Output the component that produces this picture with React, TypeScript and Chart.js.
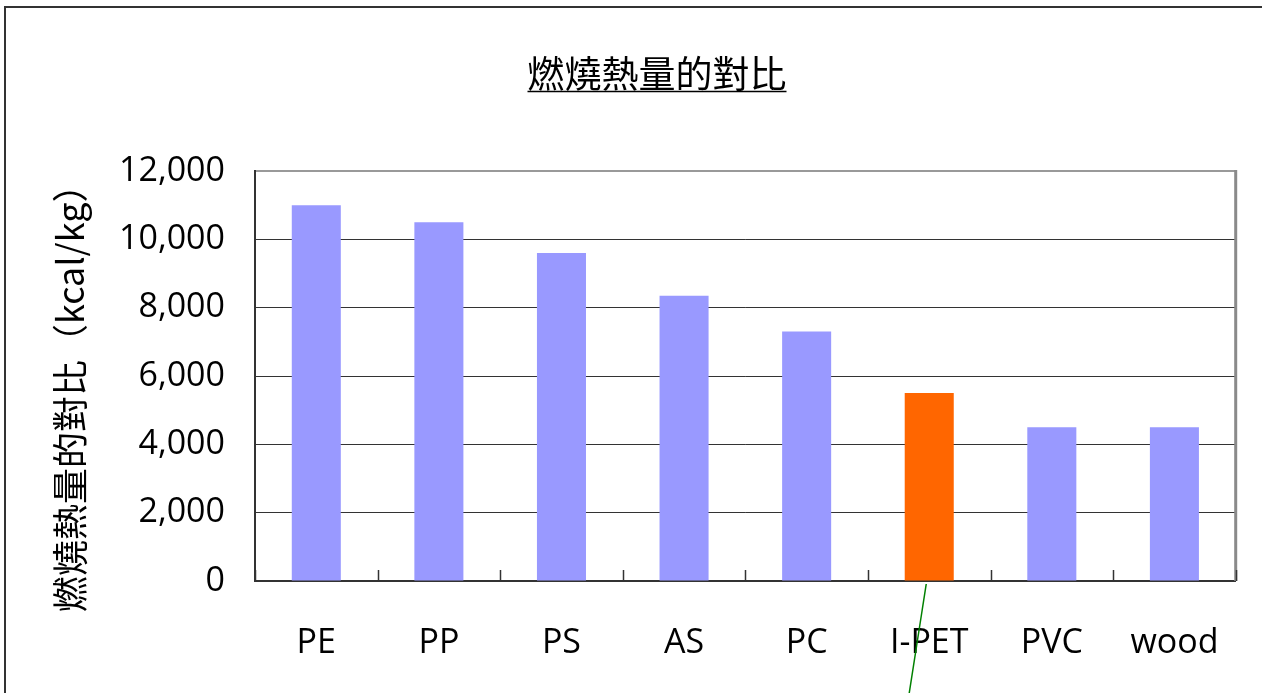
import React, { useEffect, useRef } from "react";
import { Chart, registerables } from "chart.js";

Chart.register(...registerables);

// ---- data ----
const categories = ["PE", "PP", "PS", "AS", "PC", "I-PET", "PVC", "wood"];
const heatValues = [11000, 10500, 9600, 8350, 7300, 5500, 4500, 4500];
const yTickValues = [0, 2000, 4000, 6000, 8000, 10000, 12000];
const chartTitle = "燃燒熱量的對比";
const yAxisTitle = "燃燒熱量的對比（kcal/kg）";
const highlightCategory = "I-PET";

// ---- styles ----
const BASE_COLOR = "#9999FF";
const HIGHLIGHT_COLOR = "#FF6600";
const LATIN_FONT = '"Open Sans", "Liberation Sans", sans-serif';
const CJK_FONT = '"Noto Sans CJK TC", "Noto Sans CJK SC", sans-serif';

const decorPlugin = {
  id: "decor",
  beforeDraw(chart: any) {
    const ctx = chart.ctx;
    ctx.save();
    ctx.strokeStyle = "#333";
    ctx.lineWidth = 2;
    ctx.beginPath();
    ctx.moveTo(5, chart.height);
    ctx.lineTo(5, 7);
    ctx.lineTo(chart.width, 7);
    ctx.stroke();
    ctx.restore();
  },
  afterDraw(chart: any) {
    const ctx = chart.ctx;
    const ca = chart.chartArea;
    const x = chart.scales.x;
    const n = categories.length;
    const catW = (ca.right - ca.left) / n;
    ctx.save();
    // right border of plot area
    ctx.strokeStyle = "#8a8a8a";
    ctx.lineWidth = 3;
    ctx.beginPath();
    ctx.moveTo(ca.right, ca.top - 1);
    ctx.lineTo(ca.right, ca.bottom);
    ctx.stroke();
    // inside tick marks at category boundaries
    ctx.strokeStyle = "#333";
    ctx.lineWidth = 1.5;
    for (let i = 0; i <= n; i++) {
      const px = Math.round(x.getPixelForValue(0) - catW / 2 + i * catW) + 0.5;
      ctx.beginPath();
      ctx.moveTo(px, ca.bottom);
      ctx.lineTo(px, ca.bottom - 11);
      ctx.stroke();
    }
    // leader line from highlighted bar
    const hi = categories.indexOf(highlightCategory);
    const hx = x.getPixelForValue(hi);
    ctx.strokeStyle = "#008000";
    ctx.lineWidth = 1.5;
    ctx.beginPath();
    ctx.moveTo(hx - 3, ca.bottom + 3);
    ctx.lineTo(hx - 20, chart.height);
    ctx.stroke();
    // title with underline
    ctx.fillStyle = "#000";
    ctx.font = `37px ${CJK_FONT}`;
    ctx.textAlign = "center";
    ctx.textBaseline = "middle";
    const tx = 657;
    const ty = 74;
    ctx.fillText(chartTitle, tx, ty);
    const tw = ctx.measureText(chartTitle).width;
    ctx.strokeStyle = "#000";
    ctx.lineWidth = 1.5;
    ctx.beginPath();
    ctx.moveTo(tx - tw / 2, 91.5);
    ctx.lineTo(tx + tw / 2, 91.5);
    ctx.stroke();
    // y axis title
    ctx.save();
    ctx.translate(70, 612);
    ctx.rotate(-Math.PI / 2);
    ctx.font = `36px ${CJK_FONT}`;
    ctx.textAlign = "left";
    ctx.textBaseline = "middle";
    ctx.fillText(yAxisTitle, 0, 0);
    ctx.restore();
    ctx.restore();
  },
};

export default function App() {
  const canvasRef = useRef<HTMLCanvasElement | null>(null);

  useEffect(() => {
    const canvas = canvasRef.current;
    if (!canvas) return;
    const chart = new Chart(canvas, {
      type: "bar",
      data: {
        labels: categories,
        datasets: [
          {
            data: heatValues,
            backgroundColor: categories.map((c) =>
              c === highlightCategory ? HIGHLIGHT_COLOR : BASE_COLOR
            ),
            borderWidth: 0,
            barPercentage: 0.4,
            categoryPercentage: 1,
          },
        ],
      },
      options: {
        animation: false,
        responsive: false,
        devicePixelRatio: 1,
        layout: { padding: { top: 171, right: 25, left: 0, bottom: 0 } },
        plugins: {
          legend: { display: false },
          title: { display: false },
          tooltip: { enabled: false },
        },
        scales: {
          x: {
            grid: { display: false, drawTicks: false },
            border: { color: "#333", width: 2 },
            ticks: {
              color: "#000",
              padding: 42,
              font: { family: LATIN_FONT, size: 34 },
              maxRotation: 0,
            },
            afterFit: (scale: any) => {
              scale.height = 112;
            },
          },
          y: {
            min: 0,
            max: 12000,
            afterBuildTicks: (scale: any) => {
              scale.ticks = yTickValues.map((v) => ({ value: v }));
            },
            grid: {
              drawTicks: false,
              color: (c: any) => (c.tick && c.tick.value === 12000 ? "#999" : "#333"),
              lineWidth: (c: any) => (c.tick && c.tick.value === 12000 ? 2 : 1),
            },
            border: { color: "#333", width: 2 },
            ticks: {
              color: "#000",
              padding: 30,
              font: { family: LATIN_FONT, size: 34 },
              callback: (v: any) => Number(v).toLocaleString("en-US"),
            },
            afterFit: (scale: any) => {
              scale.width = 255;
            },
          },
        },
      },
      plugins: [decorPlugin],
    });
    return () => chart.destroy();
  }, []);

  return (
    <div
      style={{
        position: "fixed",
        left: 0,
        top: 0,
        width: 1262,
        height: 693,
        overflow: "hidden",
        background: "#fff",
      }}
    >
      <canvas ref={canvasRef} width={1262} height={693} style={{ display: "block" }} />
    </div>
  );
}
